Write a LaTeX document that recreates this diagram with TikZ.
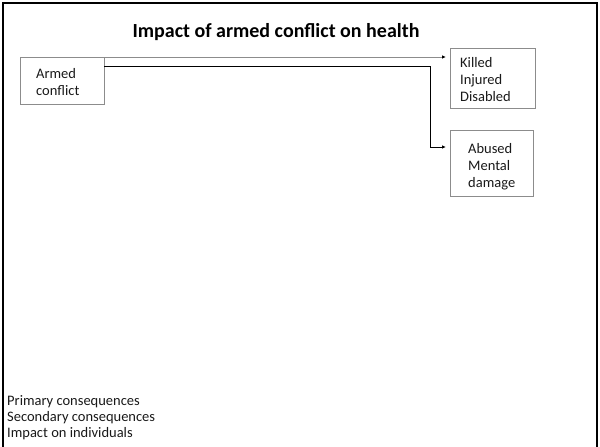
\documentclass[tikz,border=0pt]{standalone}
\usepackage{fontspec}
\setmainfont{Carlito}
\usetikzlibrary{arrows.meta}
\tikzset{
  px/.style={x=1pt,y=-1pt},
  box/.style={draw=black!45,line width=0.8pt},
  % anchored at the baseline of the last line
  lbl/.style={font=\fontsize{14.5}{17}\selectfont,align=left,inner sep=0pt,anchor=base west,text=black!90},
  link/.style={line width=0.9pt,-{Latex[length=4pt,width=3.5pt,color=black]}},
}
\begin{document}
\begin{tikzpicture}[px]
\useasboundingbox (0,0) rectangle (600,447);
% slide frame, open at the bottom
\draw[line width=2pt] (2.5,447) -- (2.5,2.5) -- (597,2.5) -- (597,447);
% title
\node[font=\fontsize{20}{22}\bfseries\selectfont,anchor=base] (title) at (276,37) {Impact of armed conflict on health};
% boxes
\draw[box] (20,57) rectangle (104,104);
\coordinate (armedNE) at (104,57);
\coordinate (armedE) at (104,66);
\node[lbl] (armed) at (36,95) {Armed\\conflict};
\draw[box] (450,48) rectangle (535,108);
\coordinate (killedW) at (450,57);
\node[lbl] (killed) at (460,101) {Killed\\Injured\\Disabled};
\draw[box] (450,130) rectangle (533,196);
\coordinate (abusedW) at (450,147);
\node[lbl] (abused) at (468,187) {Abused\\Mental\\damage};
% connectors
\coordinate (bend1) at (430,66);
\coordinate (bend2) at (430,147);
\draw[link,draw=black!45] (armedNE) -- ([xshift=-4pt]killedW);
\draw[link] (armedE) -- (bend1) -- (bend2) -- ([xshift=-4pt]abusedW);
% notes at the foot
\node[lbl,font=\fontsize{14.5}{16}\selectfont] (notes) at (7,437) {Primary consequences\\Secondary consequences\\Impact on individuals};
\end{tikzpicture}
\end{document}
